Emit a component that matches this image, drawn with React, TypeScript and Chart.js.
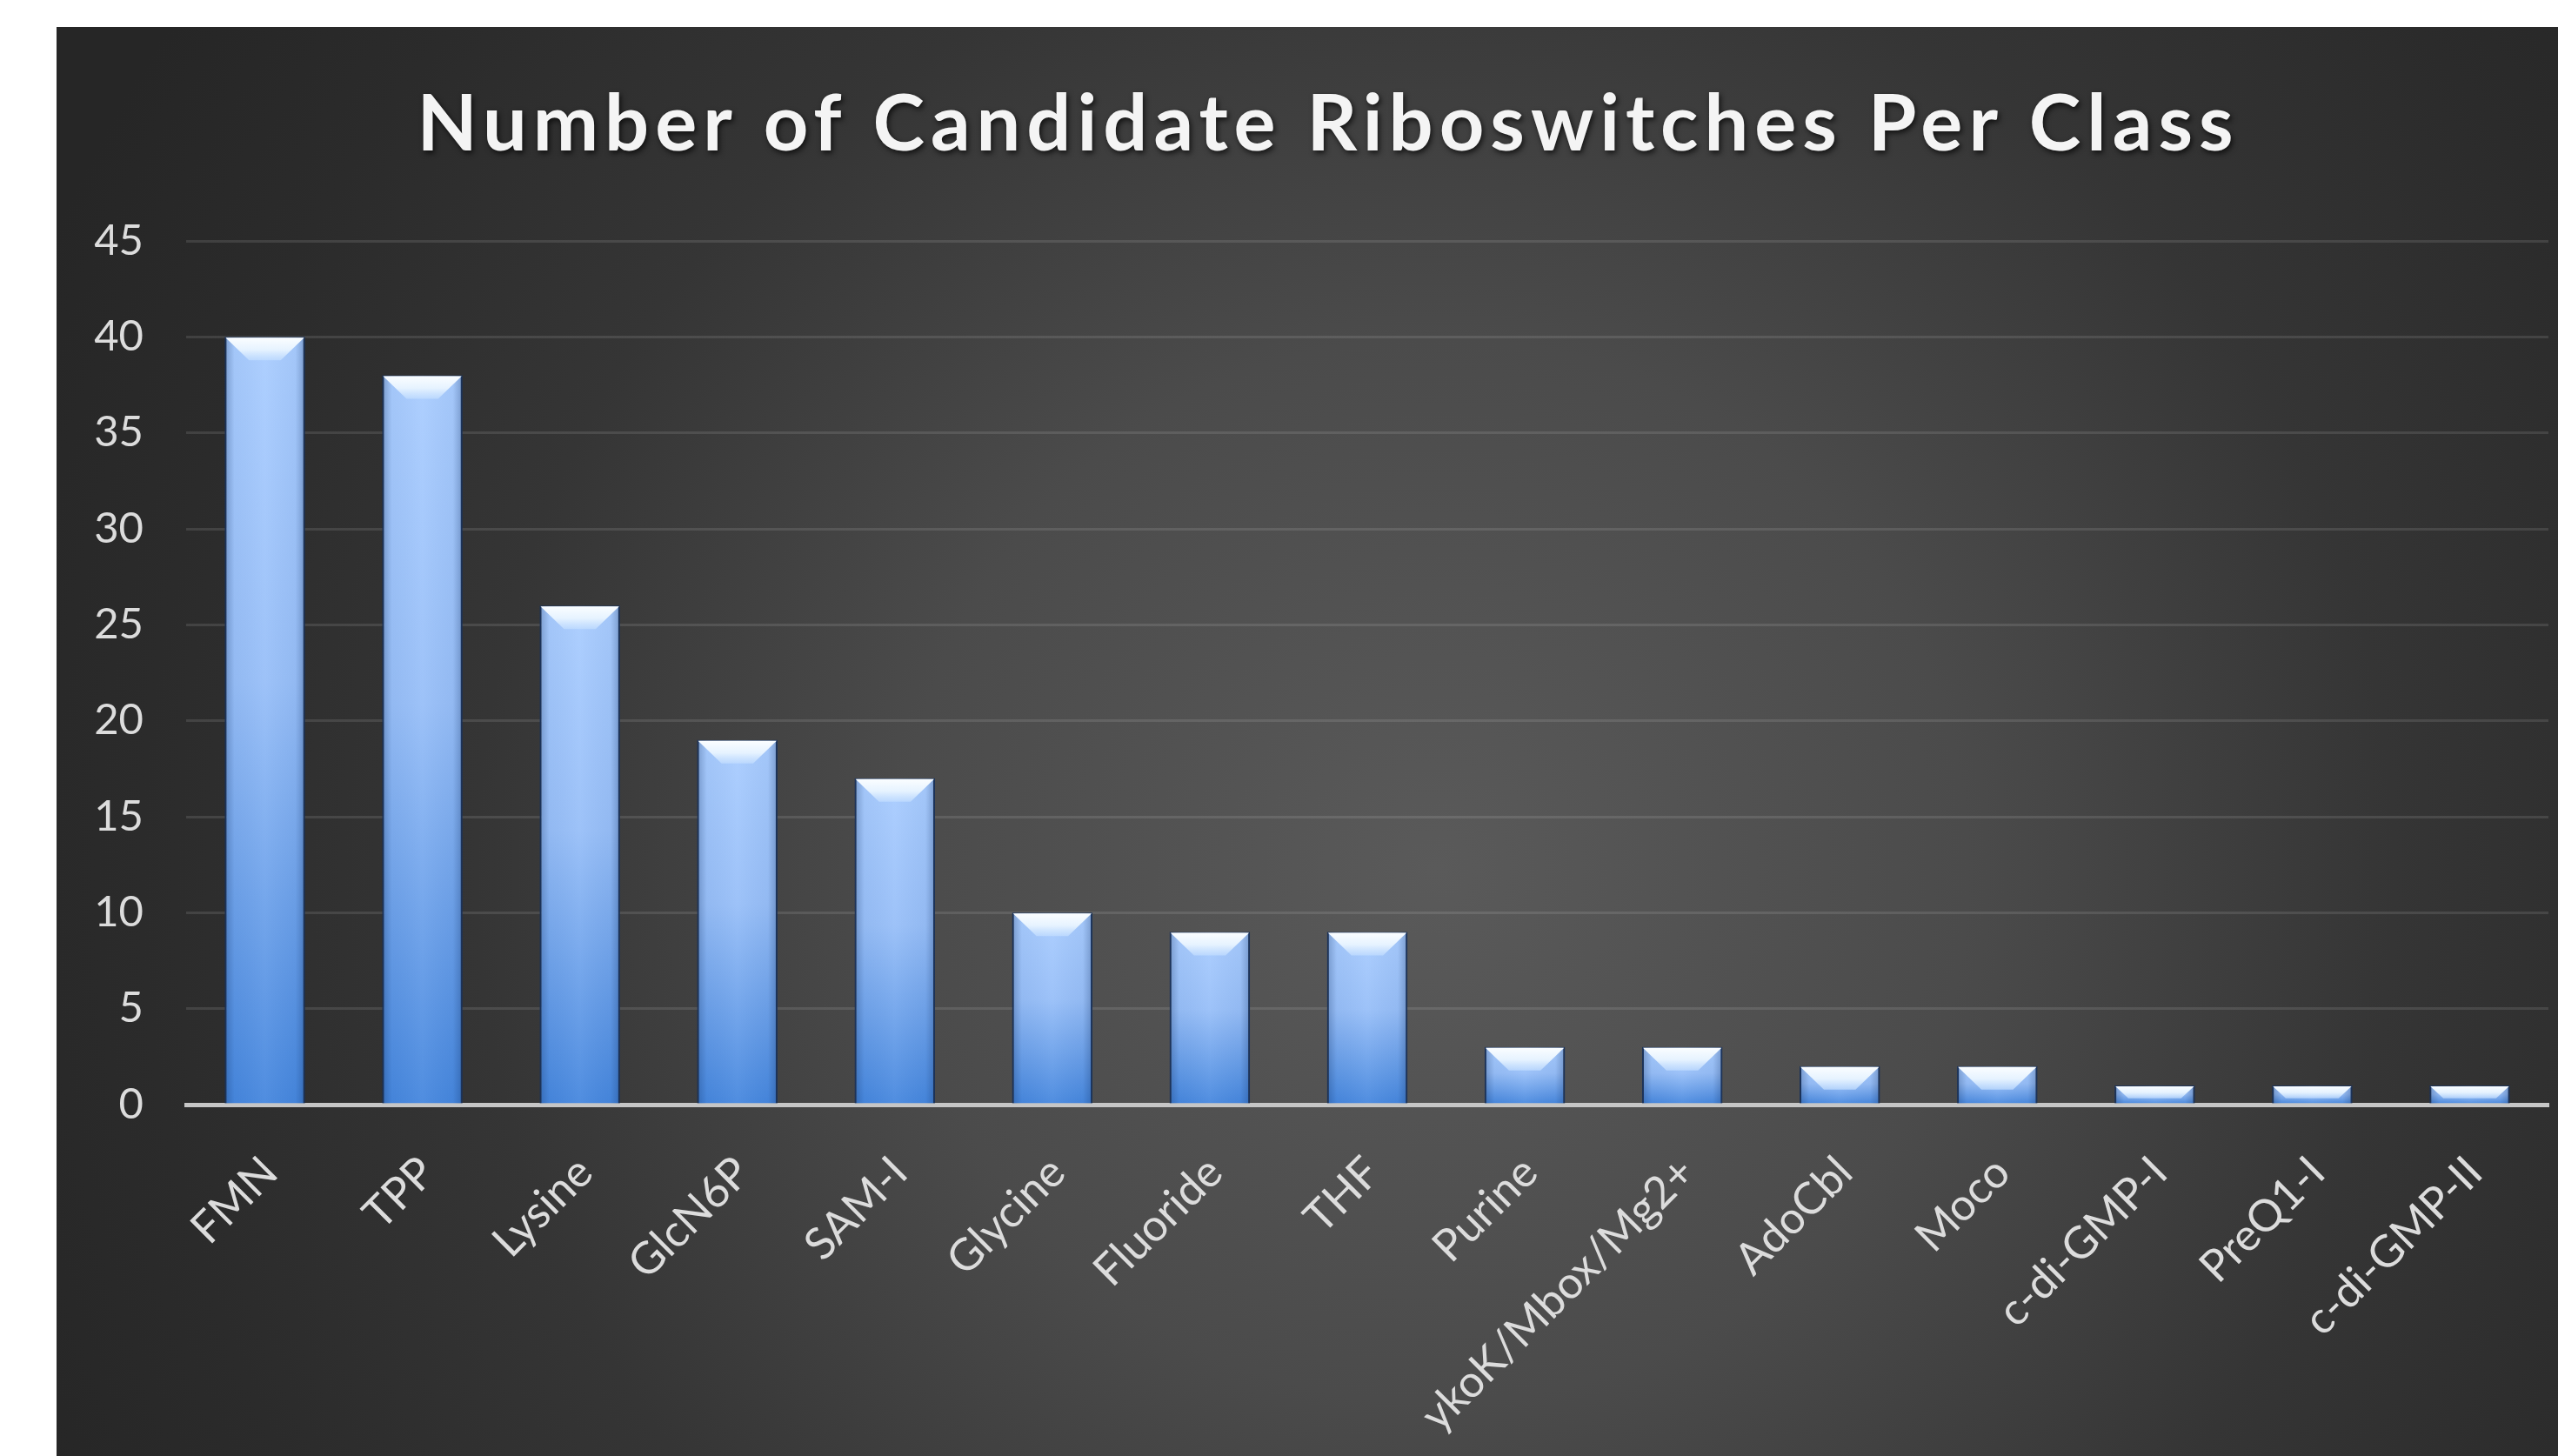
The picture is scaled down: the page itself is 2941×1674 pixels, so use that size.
import React, { useEffect, useRef } from "react";
import { Chart, registerables } from "chart.js";

Chart.register(...registerables);

const TITLE = "Number of Candidate Riboswitches Per Class";
const CATEGORIES = [
  "FMN", "TPP", "Lysine", "GlcN6P", "SAM-I", "Glycine", "Fluoride", "THF",
  "Purine", "ykoK/Mbox/Mg2+", "AdoCbl", "Moco", "c-di-GMP-I", "PreQ1-I", "c-di-GMP-II",
];
const COUNTS = [40, 38, 26, 19, 17, 10, 9, 9, 3, 3, 2, 2, 1, 1, 1];
const Y_MIN = 0;
const Y_MAX = 45;
const Y_STEP = 5;

const W = 2941;
const H = 1674;

const backgroundPlugin = {
  id: "panelBg",
  beforeDraw(chart: any) {
    const ctx = chart.ctx;
    ctx.save();
    ctx.fillStyle = "#ffffff";
    ctx.fillRect(0, 0, chart.width, chart.height);
    const g = ctx.createRadialGradient(1650, 1000, 0, 1650, 1000, 1750);
    g.addColorStop(0, "#5a5a5a");
    g.addColorStop(0.35, "#4b4b4b");
    g.addColorStop(0.63, "#353535");
    g.addColorStop(0.85, "#2b2b2b");
    g.addColorStop(1, "#262626");
    ctx.fillStyle = g;
    ctx.fillRect(65, 31, chart.width - 65, chart.height - 31);
    ctx.restore();

    const tb = chart.titleBlock;
    if (tb && !tb.__wrapped) {
      const orig = tb.draw.bind(tb);
      tb.draw = (...args: any[]) => {
        const c = chart.ctx;
        c.save();
        c.translate(62, 0);
        (c as any).letterSpacing = "7px";
        c.shadowColor = "rgba(0,0,0,0.7)";
        c.shadowBlur = 6;
        c.shadowOffsetX = 2;
        c.shadowOffsetY = 3;
        orig(...args);
        c.restore();
      };
      tb.__wrapped = true;
    }
  },
};

const bevelPlugin = {
  id: "barBevel",
  afterDatasetsDraw(chart: any) {
    const ctx = chart.ctx;
    const meta = chart.getDatasetMeta(0);
    meta.data.forEach((bar: any) => {
      const { x, y, width, base } = bar.getProps(["x", "y", "width", "base"], true);
      const h = base - y;
      if (h <= 0) return;
      const l = x - width / 2;
      const r = x + width / 2;
      const sg = ctx.createLinearGradient(l, 0, r, 0);
      sg.addColorStop(0, "rgba(10,40,90,0.30)");
      sg.addColorStop(0.12, "rgba(10,40,90,0.04)");
      sg.addColorStop(0.5, "rgba(255,255,255,0.05)");
      sg.addColorStop(0.88, "rgba(10,40,90,0.04)");
      sg.addColorStop(1, "rgba(10,40,90,0.30)");
      ctx.save();
      ctx.fillStyle = sg;
      ctx.fillRect(l, y, width, h);
      const b = Math.min(27, h * 0.72);
      const inset = Math.min(b, width / 2 - 2);
      const bg = ctx.createLinearGradient(0, y, 0, y + b);
      bg.addColorStop(0, "rgba(252,254,255,1)");
      bg.addColorStop(0.55, "rgba(232,244,255,0.97)");
      bg.addColorStop(1, "rgba(195,222,255,0.7)");
      ctx.fillStyle = bg;
      ctx.beginPath();
      ctx.moveTo(l + 1, y + 1);
      ctx.lineTo(r - 1, y + 1);
      ctx.lineTo(r - 1 - inset, y + b);
      ctx.lineTo(l + 1 + inset, y + b);
      ctx.closePath();
      ctx.fill();
      ctx.restore();
    });
  },
};

export default function App() {
  const ref = useRef<HTMLCanvasElement | null>(null);

  useEffect(() => {
    document.body.style.margin = "0";
    const canvas = ref.current;
    if (!canvas) return;
    const chart = new Chart(canvas, {
      type: "bar",
      data: {
        labels: CATEGORIES,
        datasets: [
          {
            data: COUNTS,
            barPercentage: 0.51,
            categoryPercentage: 1,
            borderColor: "#22375a",
            borderWidth: { top: 1, left: 2, right: 2, bottom: 0 },
            borderSkipped: "start",
            backgroundColor: (c: any) => {
              const ch = c.chart;
              if (!ch.chartArea || c.type !== "data") return "#6fa3ec";
              const ys = ch.scales.y;
              const top = ys.getPixelForValue(c.raw);
              const bot = ys.getPixelForValue(0);
              if (!isFinite(top) || !isFinite(bot) || bot - top < 1) return "#6fa3ec";
              const g = ch.ctx.createLinearGradient(0, top, 0, bot);
              g.addColorStop(0, "#aacdff");
              g.addColorStop(0.45, "#98bff8");
              g.addColorStop(1, "#4687de");
              return g;
            },
          },
        ],
      },
      options: {
        animation: false,
        responsive: false,
        devicePixelRatio: 1,
        layout: { padding: { left: 0, right: 11, top: 31, bottom: 0 } },
        plugins: {
          legend: { display: false },
          tooltip: { enabled: false },
          title: {
            display: true,
            text: TITLE,
            color: "#f4f4f4",
            font: { family: "Lato", weight: "bold", size: 90, lineHeight: 1.2 },
            padding: { top: 59, bottom: 79 },
          },
        },
        scales: {
          x: {
            grid: { display: false, drawTicks: false },
            border: { display: true, color: "#c6c6c6", width: 5 },
            ticks: {
              color: "#dcdcdc",
              font: { family: "Lato", size: 51 },
              maxRotation: 45,
              minRotation: 45,
              autoSkip: false,
              padding: 48,
              labelOffset: 6,
            },
            afterFit: (s: any) => {
              s.height = 404;
            },
          },
          y: {
            min: Y_MIN,
            max: Y_MAX,
            grid: { color: "rgba(255,255,255,0.11)", lineWidth: 3, drawTicks: false },
            border: { display: false },
            ticks: {
              stepSize: Y_STEP,
              color: "#dcdcdc",
              font: { family: "Lato", size: 49 },
              padding: 49,
            },
            afterFit: (s: any) => {
              s.width = 214;
            },
          },
        },
      },
      plugins: [backgroundPlugin, bevelPlugin],
    } as any);
    return () => chart.destroy();
  }, []);

  return (
    <div style={{ position: "absolute", left: 0, top: 0, width: W, height: H }}>
      <canvas ref={ref} width={W} height={H} style={{ width: W, height: H, display: "block" }} />
    </div>
  );
}
